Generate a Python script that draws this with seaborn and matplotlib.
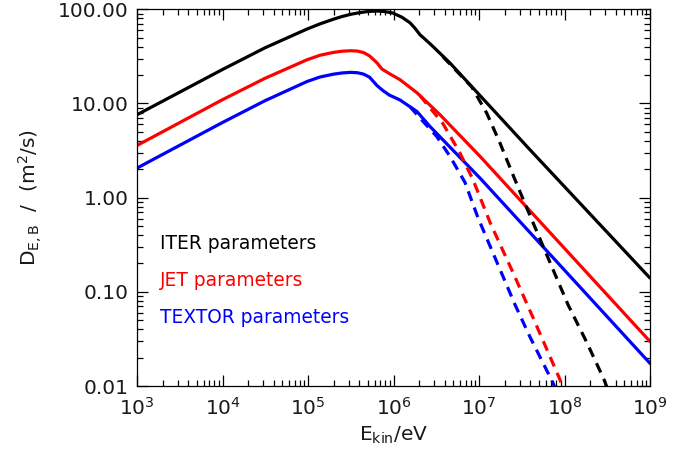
import matplotlib
matplotlib.use("Agg")
import matplotlib.pyplot as plt
import seaborn as sns
import pandas as pd
from matplotlib.ticker import LogLocator, FixedLocator, FixedFormatter, NullFormatter

# ---- data (E in eV, D in m^2/s) ----
iter_E = [1e3, 9.86e3, 3.14e4, 9.73e4, 1.38e5, 2.0e5, 2.51e5, 3.16e5, 3.98e5, 5.01e5, 6.41e5,
          7.94e5, 9.86e5, 1.26e6, 1.56e6, 1.78e6, 2.04e6, 2.21e6, 2.82e6, 4.58e6, 3.94e7, 1e9]
iter_D = [7.59, 22.8, 39.0, 61.7, 70.0, 78.7, 83.9, 88.5, 92.0, 94.8, 95.9,
          94.6, 91.2, 82.2, 71.9, 63.1, 53.7, 50.4, 41.2, 26.9, 3.23, 0.140]

jet_E = [1e3, 9.86e3, 3.14e4, 9.73e4, 1.38e5, 2.0e5, 2.51e5, 3.16e5, 3.8e5, 4.47e5, 5.25e5,
         6.41e5, 7.33e5, 8.91e5, 1.19e6, 1.88e6, 3.5e6, 1.03e7, 1e9]
jet_D = [3.58, 10.9, 18.5, 29.1, 32.5, 34.9, 35.9, 36.3, 36.0, 34.7, 32.0,
         27.0, 23.2, 20.8, 17.9, 13.0, 7.59, 2.74, 0.0297]

textor_E = [1e3, 9.86e3, 3.14e4, 9.73e4, 1.38e5, 2.0e5, 2.51e5, 3.16e5, 3.8e5, 4.47e5, 5.25e5,
            6.41e5, 7.53e5, 8.91e5, 1.19e6, 1.88e6, 2.67e6, 1.03e7, 1e9]
textor_D = [2.06, 6.24, 10.7, 17.1, 19.1, 20.5, 21.1, 21.4, 21.2, 20.5, 19.0,
            15.5, 13.7, 12.3, 10.9, 8.22, 5.70, 1.61, 0.0174]

iter_dash_E = [3.79e6, 8.22e6, 1.23e7, 1.76e7, 2.52e7, 3.45e7, 6.19e7, 1.10e8, 1.83e8, 2.90e8, 3.16e8]
iter_dash_D = [31.3, 15.0, 7.91, 3.80, 1.71, 0.861, 0.248, 0.0729, 0.0288, 0.0117, 0.0095]

jet_dash_E = [2.04e6, 3.79e6, 6.0e6, 8.51e6, 1.35e7, 2.50e7, 4.29e7, 8.85e7, 9.55e7]
jet_dash_D = [12.1, 6.10, 2.97, 1.55, 0.542, 0.160, 0.0531, 0.0117, 0.0095]

textor_dash_E = [1.56e6, 2.04e6, 3.20e6, 4.58e6, 6.86e6, 9.73e6, 1.54e7, 2.64e7, 3.94e7, 7.33e7, 7.76e7]
textor_dash_D = [9.25, 7.0, 4.47, 2.74, 1.45, 0.612, 0.230, 0.0729, 0.0333, 0.0108, 0.0095]

labels = ["ITER parameters", "JET parameters", "TEXTOR parameters"]
colors = ["black", "#ff0000", "#0000ff"]
x_ticks = [1e3, 1e4, 1e5, 1e6, 1e7, 1e8, 1e9]
y_ticks = [0.01, 0.1, 1, 10, 100]
y_tick_labels = ["0.01", "0.10", "1.00", "10.00", "100.00"]

sns.set_style("ticks")
plt.rcParams["font.family"] = ["DejaVu Sans"]

fig = plt.figure(figsize=(6.89, 4.55), dpi=100)
ax = fig.add_axes([137 / 689, 1 - 386 / 455, 513 / 689, 376.7 / 455])

solid = [(iter_E, iter_D), (jet_E, jet_D), (textor_E, textor_D)]
dashed = [(iter_dash_E, iter_dash_D), (jet_dash_E, jet_dash_D), (textor_dash_E, textor_dash_D)]

for (E, D), c in zip(solid, colors):
    df = pd.DataFrame({"E": E, "D": D})
    sns.lineplot(data=df, x="E", y="D", color=c, linewidth=2.3, estimator=None,
                 sort=True, ax=ax)
    ax.lines[-1].set_solid_joinstyle("round")
for (E, D), c in zip(dashed, colors):
    df = pd.DataFrame({"E": E, "D": D})
    sns.lineplot(data=df, x="E", y="D", color=c, linewidth=2.3, estimator=None,
                 sort=True, ax=ax)
    ax.lines[-1].set_linestyle((0, (3.2, 2.2)))

ax.set_xscale("log")
ax.set_yscale("log")
ax.set_xlim(1e3, 1e9)
ax.set_ylim(0.01, 100)

ax.yaxis.set_major_locator(FixedLocator(y_ticks))
ax.yaxis.set_major_formatter(FixedFormatter(y_tick_labels))
ax.yaxis.set_minor_locator(LogLocator(base=10, subs=range(2, 10), numticks=20))
ax.yaxis.set_minor_formatter(NullFormatter())
ax.xaxis.set_major_locator(FixedLocator(x_ticks))
ax.xaxis.set_major_formatter(FixedFormatter([r"10$^{%d}$" % p for p in range(3, 10)]))
ax.xaxis.set_minor_locator(LogLocator(base=10, subs=range(2, 10), numticks=20))
ax.xaxis.set_minor_formatter(NullFormatter())

ax.tick_params(which="both", direction="in", top=True, right=True, width=0.9, color="black")
ax.tick_params(which="major", length=8)
ax.tick_params(which="minor", length=4)
ax.tick_params(axis="y", which="major", pad=6, labelsize=14.5, labelcolor="#1a1a1a")
ax.tick_params(axis="x", which="major", pad=8, labelsize=14.5, labelcolor="#1a1a1a")
for s in ax.spines.values():
    s.set_linewidth(0.9)
    s.set_color("black")
    s.set_visible(True)

ax.set_xlabel(r"E$_{\rm kin}$/eV", fontsize=14.5, color="#1a1a1a", labelpad=4)
ax.set_ylabel(r"D$_{\rm E,B}$  /  (m$^{2}$/s)", fontsize=14.5, color="#1a1a1a", labelpad=10)

text_y = [0.365, 0.265, 0.168]
for lab, c, ty in zip(labels, colors, text_y):
    ax.text(0.045, ty, lab, color=c, fontsize=13.4, transform=ax.transAxes,
            ha="left", va="baseline")

fig.savefig("out.png", dpi=100, facecolor="white")
